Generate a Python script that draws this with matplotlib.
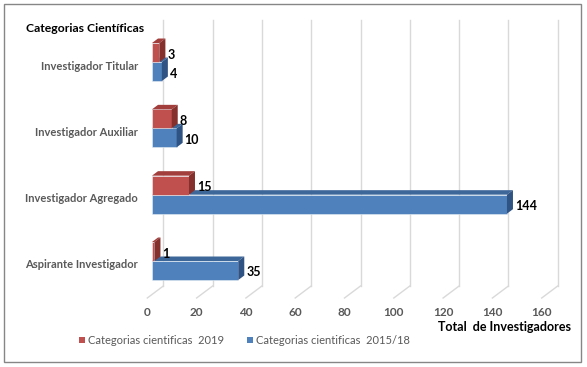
import matplotlib
matplotlib.use("Agg")
import matplotlib.pyplot as plt
from matplotlib.patches import Polygon, Rectangle

# ---- data ----
categories = ["Aspirante Investigador", "Investigador Agregado",
              "Investigador Auxiliar", "Investigador Titular"]
vals_2019 = [1, 15, 8, 3]
vals_1518 = [35, 144, 10, 4]
series_names = ["Categorias cientificas  2019", "Categorias cientificas  2015/18"]
xticks = [0, 20, 40, 60, 80, 100, 120, 140, 160]
title = "Categorias Científicas"
xlabel = "Total  de Investigadores"

W, H = 587, 367
fig = plt.figure(figsize=(W / 100, H / 100), dpi=100)
ax = fig.add_axes([0, 0, 1, 1])
ax.axis("off")

# pixel <-> data mapping (layout)
PX_PER_UNIT = 2.465
X0_PX = 152.0          # front of bars at value 0
CAT_PX = 66.33         # px between categories
BASE_PX = 261.0        # px of pair boundary for first category
ax.set_xlim(-X0_PX / PX_PER_UNIT, (W - X0_PX) / PX_PER_UNIT)
ax.set_ylim((BASE_PX - H) / CAT_PX, BASE_PX / CAT_PX)

def dxu(px):
    return px / PX_PER_UNIT

def dyu(px):
    return px / CAT_PX

def ypx(py):
    return (BASE_PX - py) / CAT_PX

grid_c = "#d9d9d9"
# back-wall gridlines & floor
back_dx, floor_dx, floor_dy = dxu(11.3), dxu(16.0), dyu(12.0)
y_back = ypx(286)
y_top = ypx(20)
for t in xticks:
    xb = t + back_dx
    ax.plot([xb, xb], [y_back, y_top], color=grid_c, lw=1.0, zorder=1)
    ax.plot([xb, xb - floor_dx], [y_back, y_back - floor_dy], color=grid_c, lw=1.0, zorder=1)
    ax.text(xb - floor_dx, ypx(313), str(t), ha="center", va="center",
            fontsize=8.5, color="#595959", fontweight="bold", family="Lato")

bh = dyu(19.0)
bdx, bdy = dxu(6.0), dyu(4.5)

def bar3d(y0, v, front, top, side):
    ax.add_patch(Polygon([(0, y0), (v, y0), (v, y0 + bh), (0, y0 + bh)], closed=True,
                         facecolor=front, edgecolor="#e8eef6", lw=0.4, zorder=3))
    ax.add_patch(Polygon([(0, y0 + bh), (v, y0 + bh), (v + bdx, y0 + bh + bdy), (bdx, y0 + bh + bdy)],
                         closed=True, facecolor=top, edgecolor="none", zorder=3))
    ax.add_patch(Polygon([(v, y0), (v + bdx, y0 + bdy), (v + bdx, y0 + bh + bdy), (v, y0 + bh)],
                         closed=True, facecolor=side, edgecolor="none", zorder=3))

lab_kw = dict(ha="left", va="center", fontsize=9, fontweight="bold", color="black", family="Lato")
for i, cat in enumerate(categories):
    yb = i - bh   # blue bar below boundary
    yr = i        # red bar above boundary
    bar3d(yb, vals_1518[i], "#4F81BD", "#3D6699", "#2F5383")
    bar3d(yr, vals_2019[i], "#C0504D", "#A23E3B", "#85302D")
    ax.text(vals_2019[i] + bdx + dxu(2), yr + bh / 2 - dyu(2), str(vals_2019[i]), **lab_kw)
    ax.text(vals_1518[i] + bdx + dxu(2), yb + bh / 2 - dyu(2), str(vals_1518[i]), **lab_kw)
    ax.text(dxu(138 - X0_PX), i - dyu(4), cat, ha="right", va="center", fontsize=8,
            fontweight="bold", color="#595959", family="Lato")

# titles
fig.text(26 / W, 1 - 28 / H, title, ha="left", va="center", fontsize=8.8,
         fontweight="bold", color="black", family="Lato")
fig.text(571 / W, 1 - 327 / H, xlabel, ha="right", va="center", fontsize=9,
         fontweight="bold", color="black", family="Lato")

# legend
leg = [(79, "#C0504D", series_names[0]), (247, "#4F81BD", series_names[1])]
for xp, c, name in leg:
    fig.patches.append(Rectangle((xp / W, 1 - 343 / H), 6 / W, 6 / H,
                                 transform=fig.transFigure, facecolor=c, edgecolor="none"))
    fig.text((xp + 9) / W, 1 - 340 / H, name, ha="left", va="center", fontsize=8,
             color="#595959", family="Lato")

# outer border
fig.patches.append(Rectangle((4 / W, 1 - 362 / H), 577 / W, 358 / H, transform=fig.transFigure,
                             facecolor="none", edgecolor="#868686", lw=1.0))

fig.savefig("out.png", dpi=100)
